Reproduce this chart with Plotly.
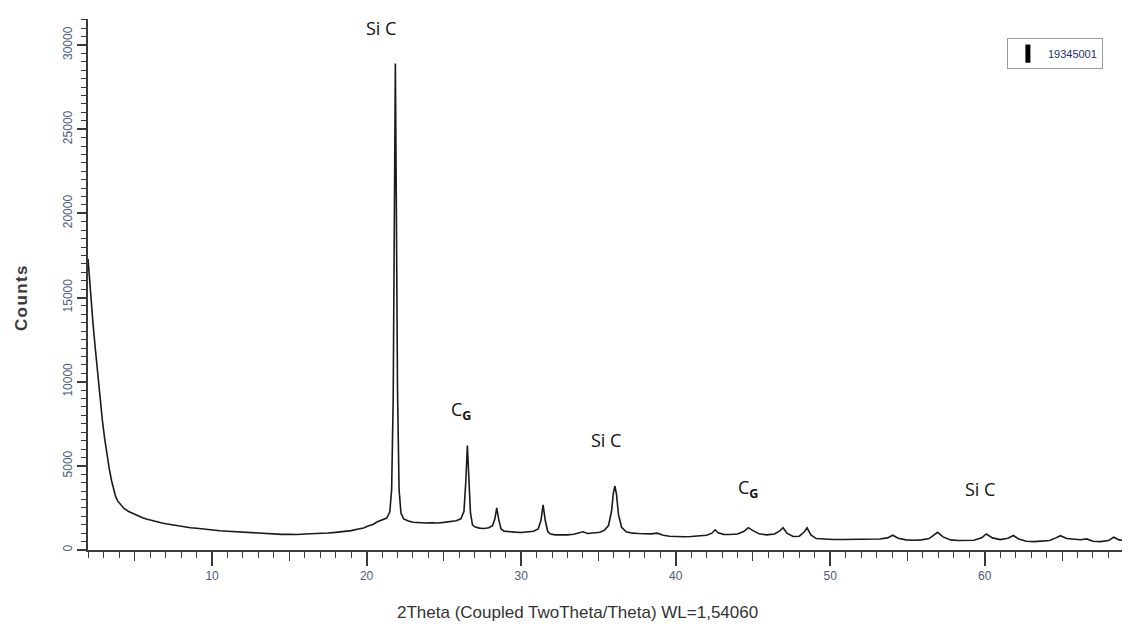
import plotly.graph_objects as go

# ---- data ----
two_theta = [
    1.97, 2.05, 2.15, 2.3, 2.45, 2.6, 2.75, 2.9, 3.05, 3.2,
    3.35, 3.5, 3.62, 3.75, 3.9, 4.1, 4.3, 4.6, 4.9, 5.2,
    5.5, 5.8, 6.1, 6.4, 6.7, 7.0, 7.4, 7.8, 8.2, 8.6,
    9.0, 9.5, 10.0, 10.5, 11.0, 11.5, 12.0, 12.5, 13.0, 13.5,
    14.0, 14.5, 15.0, 15.5, 16.0, 16.5, 17.0, 17.5, 18.0, 18.5,
    19.0, 19.4, 19.8, 20.1, 20.4, 20.7, 21.0, 21.3, 21.5, 21.62,
    21.72, 21.8, 21.86, 21.92, 22.0, 22.1, 22.22, 22.4, 22.7, 23.0,
    23.4, 23.8, 24.2, 24.6, 25.0, 25.4, 25.8, 26.1, 26.3, 26.42,
    26.52, 26.62, 26.72, 26.85, 27.0, 27.3, 27.6, 27.9, 28.15, 28.3,
    28.42, 28.55, 28.7, 28.9, 29.2, 29.6, 30.0, 30.4, 30.8, 31.1,
    31.28, 31.42, 31.56, 31.72, 31.9, 32.2, 32.6, 33.0, 33.4, 33.8,
    34.0, 34.3, 34.7, 35.1, 35.4, 35.65, 35.85, 35.97, 36.07, 36.17,
    36.3, 36.5, 36.8, 37.2, 37.6, 38.0, 38.4, 38.8, 39.2, 39.6,
    40.0, 40.5, 41.0, 41.5, 42.0, 42.35, 42.55, 42.75, 43.1, 43.5,
    44.0, 44.4, 44.7, 45.0, 45.4, 45.9, 46.4, 46.75, 46.95, 47.2,
    47.6, 48.0, 48.3, 48.5, 48.75, 49.1, 49.6, 50.2, 50.8, 51.4,
    52.0, 52.6, 53.2, 53.7, 54.05, 54.4, 54.9, 55.4, 55.9, 56.4,
    56.75, 56.95, 57.3, 57.8, 58.3, 58.8, 59.3, 59.8, 60.1, 60.5,
    61.0, 61.5, 61.85, 62.2, 62.7, 63.2, 63.7, 64.2, 64.6, 64.9,
    65.3, 65.8, 66.2, 66.6, 67.0, 67.5, 68.0, 68.35, 68.7, 69.1,
    69.4,
]
counts = [
    17300, 16200, 15000, 13400, 11900, 10400, 9000, 7700, 6600, 5600,
    4800, 4100, 3600, 3200, 2900, 2650, 2470, 2290, 2150, 2030,
    1920, 1830, 1750, 1690, 1620, 1560, 1490, 1430, 1370, 1320,
    1290, 1230, 1190, 1140, 1110, 1080, 1040, 1010, 990, 960,
    950, 930, 940, 920, 950, 960, 990, 1010, 1050, 1090,
    1150, 1230, 1310, 1420, 1520, 1680, 1780, 1900, 2250, 3600,
    9000, 20500, 28900, 21000, 9500, 3600, 2200, 1850, 1720, 1650,
    1620, 1600, 1620, 1600, 1640, 1680, 1740, 1850, 2300, 4100,
    6200, 4200, 2200, 1500, 1380, 1300, 1280, 1320, 1450, 1850,
    2500, 1800, 1250, 1120, 1080, 1060, 1040, 1060, 1110, 1250,
    1750, 2680, 1750, 1100, 950, 900, 890, 900, 940, 1050,
    1080, 980, 1000, 1050, 1180, 1450, 2300, 3400, 3800, 3300,
    2100, 1350, 1080, 1000, 980, 960, 960, 1000, 880, 820,
    800, 790, 800, 830, 880, 1000, 1200, 1020, 930, 920,
    950, 1100, 1330, 1150, 960, 900, 950, 1150, 1320, 1000,
    800, 820, 1050, 1320, 900, 680, 640, 620, 620, 630,
    620, 640, 650, 720, 880, 700, 600, 580, 600, 680,
    900, 1050, 780, 600, 560, 560, 580, 720, 950, 720,
    620, 700, 860, 650, 520, 500, 510, 560, 720, 850,
    680, 640, 610, 660, 520, 500, 560, 760, 600, 560,
    600,
]
series_name = "19345001"

phase_labels = ["Si C", "C<sub><b>G</b></sub>", "Si C", "C<sub><b>G</b></sub>", "Si C"]
phase_x = [20.9, 26.1, 35.5, 44.7, 59.7]
phase_y = [31000, 8300, 6550, 3650, 3650]

x_range = [1.97, 69.4]
y_range = [0, 31550]

x_title = "2Theta (Coupled TwoTheta/Theta) WL=1,54060"
y_title = "C\u200ao\u200au\u200an\u200at\u200as"  # "Counts" with hair-space tracking

tick_color = "#4d5b7c"
axis_color = "#3a3a3a"
sans = "Liberation Sans, Arial, sans-serif"

fig = go.Figure()

fig.add_trace(go.Scatter(
    x=two_theta, y=counts, mode="lines",
    line=dict(color="#1a1a1a", width=1.6),
    showlegend=False, hoverinfo="x+y",
))

# legend-only entry (black vertical bar symbol); it also carries the overlay axis for 5-degree ticks
fig.add_trace(go.Scatter(
    x=[None], y=[None], mode="markers", name=series_name, xaxis="x2",
    marker=dict(symbol="line-ns", size=13, line=dict(color="black", width=5)),
    showlegend=True,
))

for txt, xv, yv in zip(phase_labels, phase_x, phase_y):
    fig.add_annotation(
        x=xv, y=yv, text=txt, showarrow=False, xref="x", yref="y",
        font=dict(family="Open Sans, DejaVu Sans, sans-serif", size=18, color="#111"),
        xanchor="center", yanchor="middle",
    )

fig.add_annotation(
    x=0.47, y=-0.117, xref="paper", yref="paper", text=x_title, showarrow=False,
    font=dict(family=sans, size=17, color="#333"), xanchor="center", yanchor="middle",
)
fig.add_annotation(
    x=-0.064, y=0.475, xref="paper", yref="paper", text="<b>" + y_title + "</b>", showarrow=False,
    textangle=-90,
    font=dict(family=sans, size=17, color="#3a3a3a"),
    xanchor="center", yanchor="middle",
)

# page body keeps an 8px margin, so the figure is 8px smaller and margins shifted
fig.update_layout(
    template="simple_white",
    width=1122, height=625,
    margin=dict(l=80, r=0, t=11, b=83, autoexpand=False),
    paper_bgcolor="white", plot_bgcolor="white",
    showlegend=True,
    legend=dict(
        x=0.974, y=0.964, xanchor="right", yanchor="top",
        bordercolor="#9a9a9a", borderwidth=1, bgcolor="white",
        font=dict(family=sans, size=11, color="#23336a"),
        itemwidth=30, tracegroupgap=0,
    ),
    xaxis=dict(
        range=x_range, showgrid=False, zeroline=False, automargin=False,
        showline=True, linecolor=axis_color, linewidth=1.5,
        ticks="outside", tickcolor=axis_color, ticklen=14, tickwidth=1.5,
        dtick=10, tick0=0,
        tickfont=dict(family=sans, size=12, color=tick_color),
        minor=dict(ticks="outside", dtick=1, tick0=0,
                   ticklen=6, tickcolor=axis_color, tickwidth=1.2, showgrid=False),
    ),
    xaxis2=dict(
        overlaying="x", anchor="y", side="bottom", range=x_range,
        showgrid=False, zeroline=False, showline=False, automargin=False,
        ticks="outside", tickcolor=axis_color, ticklen=10, tickwidth=1.3,
        tick0=5, dtick=10, showticklabels=False,
    ),
    yaxis=dict(
        range=y_range, showgrid=False, zeroline=False, automargin=False,
        showline=True, linecolor=axis_color, linewidth=1.5,
        ticks="outside", tickcolor=axis_color, ticklen=9, tickwidth=1.5,
        dtick=5000, tick0=0, tickangle=-90, tickformat="d",
        tickfont=dict(family=sans, size=12, color=tick_color),
        minor=dict(ticks="outside", dtick=500, tick0=0,
                   ticklen=5, tickcolor=axis_color, tickwidth=1.2, showgrid=False),
    ),
)

fig.write_html("out.html")
